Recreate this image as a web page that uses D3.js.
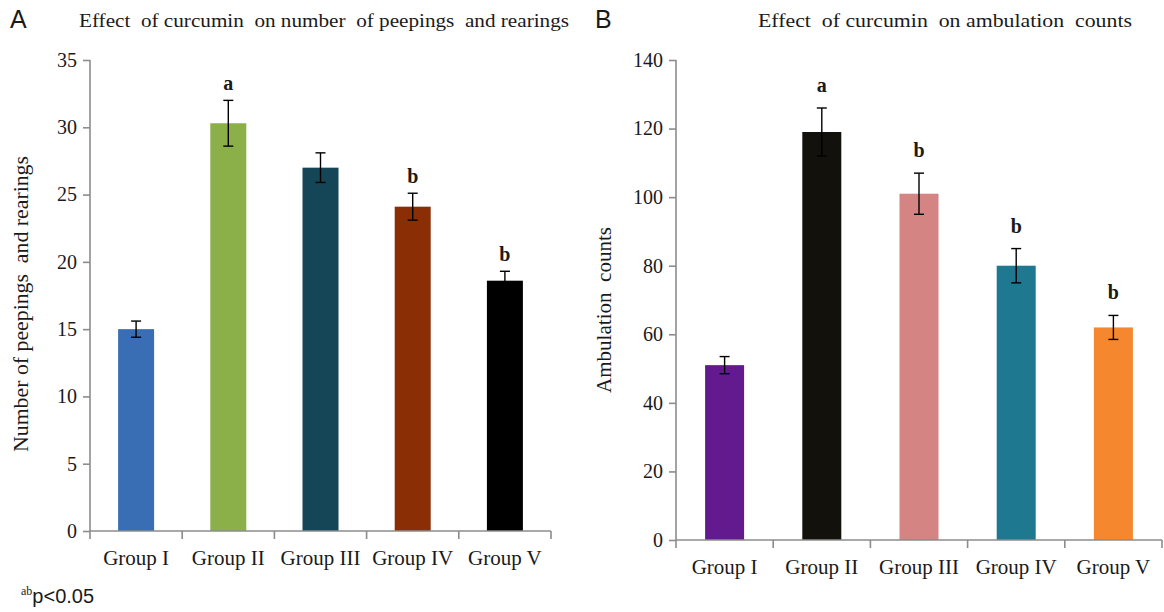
<!DOCTYPE html>
<html>
<head>
<meta charset="utf-8">
<script src="https://cdn.jsdelivr.net/npm/d3@7"></script>
<style>
  body { margin: 0; background: #fff; }
  text { font-family: "Liberation Serif", "Times New Roman", serif; fill: #1a1a1a; white-space: pre; }
</style>
</head>
<body>
<div class="chart"></div>
<script>
const groups = ['Group I', 'Group II', 'Group III', 'Group IV', 'Group V'];

const peepMeans = [15.0, 30.3, 27.0, 24.1, 18.6];
const peepErrors = [0.6, 1.7, 1.1, 1.0, 0.7];
const peepLetters = ['', 'a', '', 'b', 'b'];
const peepColors = ['#3a6eb4', '#8bb04a', '#154657', '#8a2e06', '#000000'];
const peepTicks = [0, 5, 10, 15, 20, 25, 30, 35];

const ambMeans = [51, 119, 101, 80, 62];
const ambErrors = [2.5, 7, 6, 5, 3.5];
const ambLetters = ['', 'a', 'b', 'b', 'b'];
const ambColors = ['#641a8f', '#12110c', '#d48482', '#1e7890', '#f5872f'];
const ambTicks = [0, 20, 40, 60, 80, 100, 120, 140];

const w = 1164;
const h = 612;

const svg = d3.select('.chart')
    .append('svg')
    .attr('width', w)
    .attr('height', h);

function drawPanel(opt) {
    const x = d3.scaleBand()
        .domain(groups)
        .range([opt.x0, opt.x1])
        .padding(0);

    const y = d3.scaleLinear()
        .domain([0, d3.max(opt.ticks)])
        .range([opt.y0, opt.y1]);

    const bw = opt.barWidth;
    const cx = (i) => x(groups[i]) + x.bandwidth() / 2;
    const g = svg.append('g');

    // bars
    g.selectAll('rect')
        .data(opt.means)
        .enter()
        .append('rect')
        .attr('x', (d, i) => cx(i) - bw / 2)
        .attr('y', d => y(d))
        .attr('width', bw)
        .attr('height', d => y(0) - y(d))
        .attr('fill', (d, i) => opt.colors[i]);

    // error bars
    const eb = g.selectAll('.err')
        .data(opt.means)
        .enter()
        .append('g')
        .attr('class', 'err')
        .attr('transform', (d, i) => 'translate(' + cx(i) + ',0)');
    eb.append('line')
        .attr('y1', (d, i) => y(d - opt.errors[i]))
        .attr('y2', (d, i) => y(d + opt.errors[i]))
        .attr('stroke', '#000').attr('stroke-width', 1.4);
    eb.append('line')
        .attr('x1', -5).attr('x2', 5)
        .attr('y1', (d, i) => y(d + opt.errors[i]))
        .attr('y2', (d, i) => y(d + opt.errors[i]))
        .attr('stroke', '#000').attr('stroke-width', 1.4);
    eb.append('line')
        .attr('x1', -5).attr('x2', 5)
        .attr('y1', (d, i) => y(d - opt.errors[i]))
        .attr('y2', (d, i) => y(d - opt.errors[i]))
        .attr('stroke', '#000').attr('stroke-width', 1.4);

    // significance letters
    eb.append('text')
        .attr('y', (d, i) => y(d + opt.errors[i]) - opt.letterGap)
        .attr('text-anchor', 'middle')
        .style('font-size', '20px')
        .style('font-weight', 'bold')
        .text((d, i) => opt.letters[i]);

    // axes
    const yAxis = d3.axisLeft(y).tickValues(opt.ticks).tickSize(7).tickPadding(6);
    const xAxis = d3.axisBottom(x).tickSize(0).tickPadding(19);

    const ya = g.append('g')
        .attr('transform', 'translate(' + opt.x0 + ',0)')
        .call(yAxis);
    ya.select('.domain').attr('d', 'M0,' + opt.y1 + 'V' + opt.y0);

    const xa = g.append('g')
        .attr('transform', 'translate(0,' + opt.y0 + ')')
        .call(xAxis);
    xa.select('.domain').attr('d', 'M' + opt.x0 + ',0H' + opt.x1);

    // ticks at the band edges
    xa.selectAll('.bnd')
        .data(groups.map(gr => x(gr)).concat([opt.x1]))
        .enter()
        .append('line')
        .attr('class', 'bnd')
        .attr('x1', d => d)
        .attr('x2', d => d)
        .attr('y1', 0).attr('y2', 8);

    g.selectAll('.domain, .tick line, .bnd')
        .attr('stroke', '#8c8c8c')
        .attr('stroke-width', 1.6);
    ya.selectAll('.tick text')
        .style('font-family', '"Liberation Serif", serif')
        .style('font-size', '20px')
        .attr('fill', '#1a1a1a');
    xa.selectAll('.tick text')
        .style('font-family', '"Liberation Serif", serif')
        .style('font-size', '21px')
        .attr('fill', '#1a1a1a');

    // axis title
    g.append('text')
        .attr('transform', 'translate(' + opt.ytX + ',' + opt.ytY + ') rotate(-90)')
        .attr('text-anchor', 'middle')
        .style('font-size', '21px')
        .attr('textLength', opt.ytLen)
        .attr('lengthAdjust', 'spacingAndGlyphs')
        .text(opt.yTitle);

    // chart title
    g.append('text')
        .attr('x', opt.titleX)
        .attr('y', 27)
        .attr('text-anchor', 'middle')
        .style('font-size', '18px')
        .attr('textLength', opt.titleLen)
        .attr('lengthAdjust', 'spacingAndGlyphs')
        .text(opt.title);

    // panel letter
    g.append('text')
        .attr('x', opt.letterX)
        .attr('y', 28)
        .style('font-family', '"Liberation Sans", Arial, sans-serif')
        .style('font-size', '25px')
        .attr('fill', '#000')
        .text(opt.panel);
}

drawPanel({
    x0: 90, x1: 551, y0: 531, y1: 60,
    ticks: peepTicks, means: peepMeans, errors: peepErrors,
    letters: peepLetters, colors: peepColors, barWidth: 36,
    letterGap: 10,
    yTitle: 'Number of peepings  and rearings', ytX: 28, ytY: 304, ytLen: 296,
    title: 'Effect  of curcumin  on number  of peepings  and rearings', titleX: 324, titleLen: 490,
    panel: 'A', letterX: 10
});

drawPanel({
    x0: 676, x1: 1162, y0: 540, y1: 60,
    ticks: ambTicks, means: ambMeans, errors: ambErrors,
    letters: ambLetters, colors: ambColors, barWidth: 39,
    letterGap: 16,
    yTitle: 'Ambulation  counts', ytX: 611, ytY: 310, ytLen: 166,
    title: 'Effect  of curcumin  on ambulation  counts', titleX: 945, titleLen: 374,
    panel: 'B', letterX: 595
});

// footnote
const foot = svg.append('text')
    .attr('x', 21)
    .attr('y', 603);
foot.append('tspan')
    .attr('dy', -8)
    .style('font-size', '12px')
    .text('ab');
foot.append('tspan')
    .attr('dy', 8)
    .style('font-family', '"Liberation Sans", Arial, sans-serif')
    .style('font-size', '20px')
    .text('p<0.05');
</script>
</body>
</html>
